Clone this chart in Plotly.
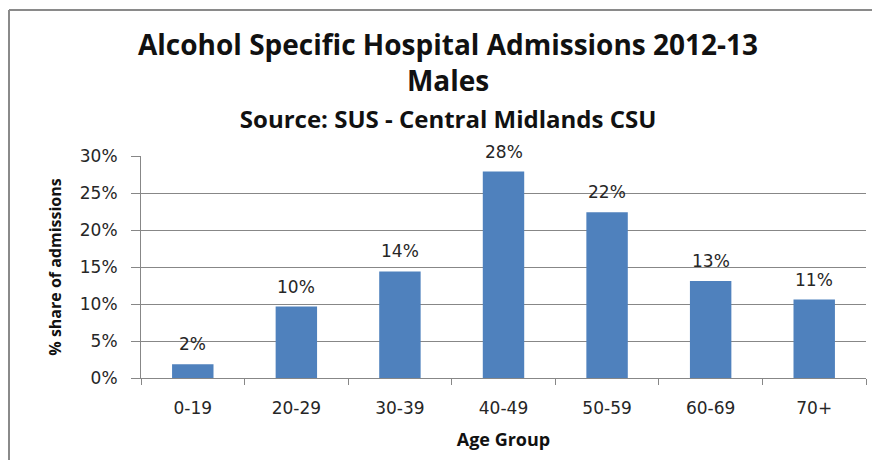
import plotly.graph_objects as go

categories = ["0-19", "20-29", "30-39", "40-49", "50-59", "60-69", "70+"]
share = [0.0185, 0.0965, 0.144, 0.279, 0.224, 0.131, 0.106]
y_ticks = [0, 0.05, 0.10, 0.15, 0.20, 0.25, 0.30]

title_lines = ["Alcohol Specific Hospital Admissions 2012-13", "Males", "Source: SUS - Central Midlands CSU"]
x_title = "Age Group"
y_title = "% share of admissions"

BAR = "#4F81BD"
GRID = "#878787"
TXT = "#111111"
TICKFONT = dict(family="DejaVu Sans", size=17, color="#262626")
TITLEFONT = "Open Sans"

# figure geometry (page body has an 8px margin, so the figure is offset by 8px)
W, H = 864, 452
L, R, T, B = 133, 6, 148, 82
PW, PH = W - L - R, H - T - B


def px(x):  # figure pixel -> paper x
    return (x - L) / PW


def py(y):  # figure pixel -> paper y
    return (H - B - y) / PH


fig = go.Figure()
fig.add_trace(go.Bar(
    x=categories, y=share, marker=dict(color=BAR, line=dict(width=0)),
    hoverinfo="skip",
))

for c, v in zip(categories, share):
    fig.add_annotation(x=c, y=v, xref="x", yref="y", text=f"{v:.0%}",
                       showarrow=False, yanchor="middle", yshift=20,
                       font=TICKFONT)

# three-line title as one text block
title_text = (f"<b>{title_lines[0]}</b><br><b>{title_lines[1]}</b><br>"
              f"<span style='font-size:24px'><b>{title_lines[2]}</b></span>")
fig.add_annotation(x=px(440), y=py(72), xref="paper", yref="paper",
                   text=title_text, showarrow=False,
                   xanchor="center", yanchor="middle", align="center",
                   font=dict(family=TITLEFONT, size=28, color=TXT))

fig.update_layout(
    width=W, height=H,
    margin=dict(l=L, r=R, t=T, b=B, autoexpand=False),
    paper_bgcolor="white", plot_bgcolor="white",
    showlegend=False, bargap=0.6,
    xaxis=dict(
        title=dict(text=f"<b>{x_title}</b>", font=dict(family=TITLEFONT, size=18, color=TXT), standoff=15),
        tickfont=TICKFONT, showline=True, linecolor=GRID, linewidth=1,
        ticks="outside", tickson="boundaries", ticklen=6, tickcolor=GRID,
        ticklabelstandoff=15, showgrid=False,
    ),
    yaxis=dict(
        title=dict(text=f"<b>{y_title}</b>", font=dict(family=TITLEFONT, size=16, color=TXT), standoff=14),
        range=[0, 0.30], tickvals=y_ticks, tickformat=".0%",
        tickfont=TICKFONT, showline=True, linecolor=GRID, linewidth=1,
        ticks="outside", ticklen=9, tickcolor=GRID,
        showgrid=True, gridcolor=GRID, gridwidth=1, zeroline=False,
        ticklabelstandoff=10,
    ),
)

# outer chart frame: only top and left edges fall inside the picture
FRAME = dict(color="#8a8a8a", width=2)
fig.add_shape(type="line", xref="paper", yref="paper",
              x0=px(1), x1=px(W), y0=py(2), y1=py(2), line=FRAME, layer="below")
fig.add_shape(type="line", xref="paper", yref="paper",
              x0=px(1), x1=px(1), y0=py(2), y1=py(H), line=FRAME, layer="below")

fig.write_html("out.html")
